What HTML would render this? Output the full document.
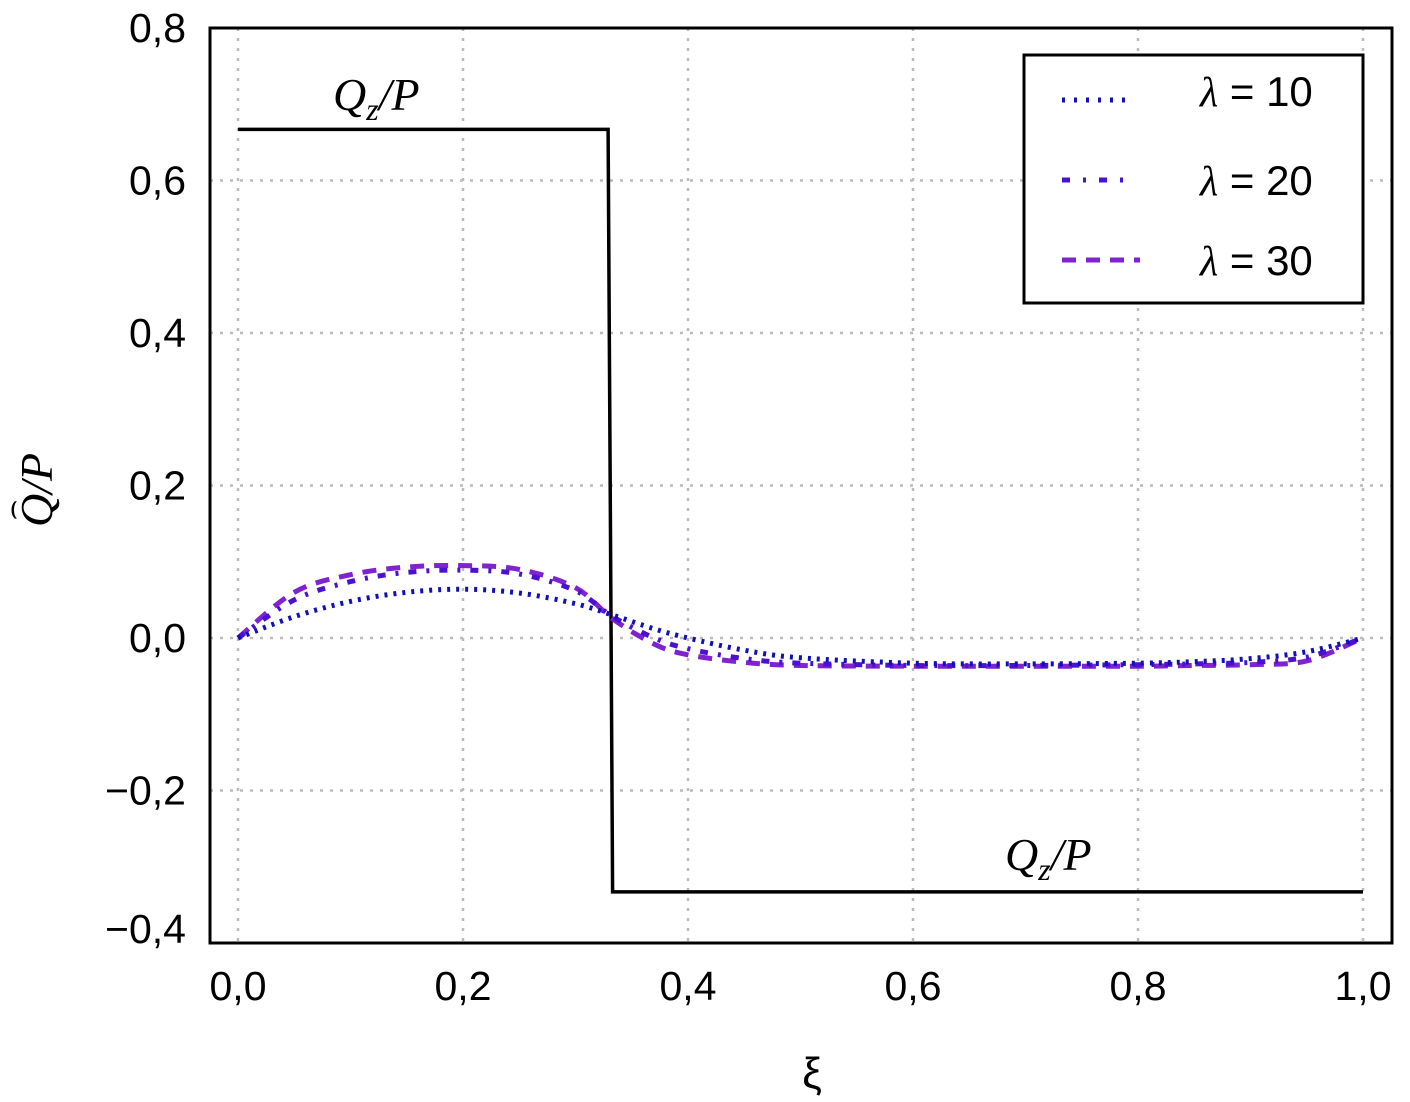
<!DOCTYPE html>
<html><head><meta charset="utf-8"><style>
html,body{margin:0;padding:0;background:#fff;width:1410px;height:1102px;overflow:hidden}
svg text{font-family:"Liberation Sans",sans-serif;fill:#000}
.ser{font-family:"Liberation Serif",serif;font-style:italic}
</style></head><body>
<svg id="chart" width="1410" height="1102" viewBox="0 0 1410 1102" xmlns="http://www.w3.org/2000/svg">
<g id="grid"></g>
<g id="series"></g>
<rect x="210" y="28" width="1182" height="915" fill="none" stroke="#000" stroke-width="3"/>
<g id="ticks"></g>
<text class="ser" x="333" y="110" font-size="46">Q<tspan font-size="32" dy="10">z</tspan><tspan dy="-10">/P</tspan></text>
<text class="ser" x="1005" y="870" font-size="46">Q<tspan font-size="32" dy="10">z</tspan><tspan dy="-10">/P</tspan></text>
<text x="812" y="1088" font-size="44" text-anchor="middle" font-family="Liberation Serif,serif">ξ</text>
<g transform="translate(52,490) rotate(-90)">
<text class="ser" x="0" y="0" font-size="46" text-anchor="middle">Q/P</text>
<text x="-20" y="-30" font-size="32" text-anchor="middle">⌢</text>
</g>
<g>
<rect x="1024" y="55" width="339" height="248" fill="#fff" stroke="#000" stroke-width="3"/>
<line x1="1062" y1="100" x2="1133" y2="100" stroke="#1010b8" stroke-width="5" stroke-dasharray="3,9"/>
<line x1="1062" y1="180" x2="1133" y2="180" stroke="#4a12d0" stroke-width="5" stroke-dasharray="8,13,3,13"/>
<line x1="1062" y1="260" x2="1140" y2="260" stroke="#8022d0" stroke-width="5" stroke-dasharray="14,10"/>
<text x="1200" y="106" font-size="42"><tspan class="ser">λ</tspan> = 10</text>
<text x="1200" y="195" font-size="42"><tspan class="ser">λ</tspan> = 20</text>
<text x="1200" y="275" font-size="42"><tspan class="ser">λ</tspan> = 30</text>
</g>
</svg>
<script>
const xs=[0,0.05,0.1,0.15,0.2,0.25,0.3,0.333,0.37,0.4,0.45,0.5,0.6,0.7,0.8,0.85,0.9,0.95,1];
const lam10=[0,0.028,0.048,0.06,0.064,0.059,0.045,0.03,0.012,0.0,-0.016,-0.026,-0.033,-0.034,-0.033,-0.031,-0.027,-0.018,0];
const lam20=[0,0.05,0.074,0.086,0.089,0.084,0.062,0.028,0.0,-0.014,-0.027,-0.033,-0.036,-0.036,-0.035,-0.034,-0.032,-0.025,0];
const lam30=[0,0.06,0.083,0.093,0.095,0.09,0.066,0.025,-0.008,-0.022,-0.032,-0.036,-0.037,-0.037,-0.037,-0.036,-0.035,-0.03,0];
const stepX=[0,0.329,0.333,1];
const stepY=[0.667,0.667,-0.333,-0.333];
const xTicks=[0,0.2,0.4,0.6,0.8,1.0];
const xTickLabels=["0,0","0,2","0,4","0,6","0,8","1,0"];
const yTicks=[0.8,0.6,0.4,0.2,0,-0.2,-0.4];
const yTickLabels=["0,8","0,6","0,4","0,2","0,0","\u22120,2","\u22120,4"];
const NS="http://www.w3.org/2000/svg";
const X=v=>238+v*1125, Y=v=>638-v*762.5;
function mk(t,a,p){const e=document.createElementNS(NS,t);for(const k in a)e.setAttribute(k,a[k]);p.appendChild(e);return e;}
const grid=document.getElementById('grid'),ticks=document.getElementById('ticks'),ser=document.getElementById('series');
xTicks.forEach((v,i)=>{
 const g=mk('line',{x1:X(v),x2:X(v),y1:28,y2:943,stroke:'#bbb','stroke-width':2.5,'stroke-dasharray':'3,7'},grid);
 
 
 const t=mk('text',{x:X(v),y:1000,'font-size':41,'text-anchor':'middle'},ticks);t.textContent=xTickLabels[i];
 
 
});
yTicks.forEach((v,i)=>{
 const yy=Math.max(28,Math.min(943,Y(v)));
 const g=mk('line',{x1:210,x2:1392,y1:yy,y2:yy,stroke:'#bbb','stroke-width':2.5,'stroke-dasharray':'3,7'},grid);
 
 
 let ty=yy+14; if(v===-0.4) ty=yy; 
 const t=mk('text',{x:186,y:ty,'font-size':41,'text-anchor':'end'},ticks);t.textContent=yTickLabels[i];
 
 
});
function path(xa,ya){return xa.map((x,i)=>(i?'L':'M')+X(x).toFixed(1)+','+Y(ya[i]).toFixed(1)).join('');}
function smooth(xa,ya){let d='M'+X(xa[0])+','+Y(ya[0]);for(let i=0;i<xa.length-1;i++){const p0=i?i-1:i,p3=i+2<xa.length?i+2:i+1;
 const c1x=X(xa[i])+(X(xa[i+1])-X(xa[p0]))/6,c1y=Y(ya[i])+(Y(ya[i+1])-Y(ya[p0]))/6,c2x=X(xa[i+1])-(X(xa[p3])-X(xa[i]))/6,c2y=Y(ya[i+1])-(Y(ya[p3])-Y(ya[i]))/6;
 d+=`C${c1x.toFixed(1)},${c1y.toFixed(1)} ${c2x.toFixed(1)},${c2y.toFixed(1)} ${X(xa[i+1]).toFixed(1)},${Y(ya[i+1]).toFixed(1)}`;}return d;}
const s=mk('path',{d:path(stepX,stepY),fill:'none',stroke:'#000','stroke-width':3.5},ser);


const a=mk('path',{d:smooth(xs,lam30),fill:'none',stroke:'#8022d0','stroke-width':5,'stroke-dasharray':'14,10'},ser);


const b=mk('path',{d:smooth(xs,lam20),fill:'none',stroke:'#4a12d0','stroke-width':5,'stroke-dasharray':'8,10,3,10'},ser);


const c=mk('path',{d:smooth(xs,lam10),fill:'none',stroke:'#1010b8','stroke-width':5,'stroke-dasharray':'3,6'},ser);


</script>
</body></html>
